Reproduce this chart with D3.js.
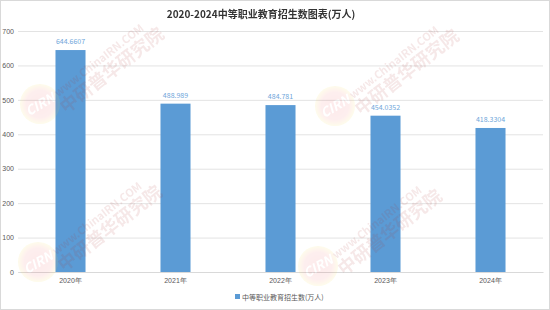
<!DOCTYPE html>
<html>
<head>
<meta charset="utf-8">
<script src="https://cdn.jsdelivr.net/npm/d3@7"></script>
<style>
  body { margin: 0; background: #fff; }
  svg { display: block; font-family: "Noto Sans CJK SC", "Noto Sans", sans-serif; }
</style>
</head>
<body>
<div id="chart"></div>
<script>
// chart data
const years = ['2020年', '2021年', '2022年', '2023年', '2024年'];
const enrolment = [644.6607, 488.989, 484.781, 454.0352, 418.3304];
const enrolmentLabels = ['644.6607', '488.989', '484.781', '454.0352', '418.3304'];
const yTicks = [0, 100, 200, 300, 400, 500, 600, 700];
const title = '2020-2024中等职业教育招生数图表(万人)';
const seriesName = '中等职业教育招生数(万人)';

const W = 550, H = 310;
const margin = {top: 31, right: 7, bottom: 38, left: 18};
const barColor = '#5b9bd5';

const svg = d3.select('#chart').append('svg')
  .attr('width', W).attr('height', H);

svg.append('rect')
  .attr('x', 0.5).attr('y', 0.5)
  .attr('width', W - 1).attr('height', H - 1)
  .attr('fill', '#fff').attr('stroke', '#d9d9d9');

const xScale = d3.scaleBand()
  .domain(years)
  .range([margin.left, W - margin.right])
  .paddingInner(0.714)
  .paddingOuter(0.357);

const yScale = d3.scaleLinear()
  .domain([0, 700])
  .range([H - margin.bottom, margin.top]);

// gridlines + y labels
const yAxis = d3.axisLeft(yScale)
  .tickValues(yTicks)
  .tickSize(-(W - margin.right - margin.left))
  .tickPadding(4);
const gy = svg.append('g')
  .attr('transform', `translate(${margin.left},0)`)
  .call(yAxis);
gy.select('.domain').remove();
gy.selectAll('.tick line').attr('stroke', '#e3e3e3').attr('stroke-width', 1);
gy.selectAll('.tick text')
  .attr('fill', '#595959').attr('font-size', 7);

// bars
svg.append('g').selectAll('rect')
  .data(enrolment)
  .join('rect')
  .attr('x', (d, i) => xScale(years[i]))
  .attr('y', d => yScale(d))
  .attr('width', xScale.bandwidth())
  .attr('height', d => yScale(0) - yScale(d))
  .attr('fill', barColor);

// value labels
svg.append('g').selectAll('text')
  .data(enrolment)
  .join('text')
  .attr('x', (d, i) => xScale(years[i]) + xScale.bandwidth() / 2)
  .attr('y', d => yScale(d) - 6)
  .attr('text-anchor', 'middle')
  .attr('font-size', 7)
  .attr('fill', '#6fa6da')
  .text((d, i) => enrolmentLabels[i]);

// x axis
const gx = svg.append('g')
  .attr('transform', `translate(0,${yScale(0)})`)
  .call(d3.axisBottom(xScale).tickSize(0).tickPadding(6));
gx.select('.domain').attr('stroke', '#d9d9d9');
gx.selectAll('.tick text').attr('fill', '#595959').attr('font-size', 7);

// watermarks (faint, on top like the original)
const marks = [[40, 104], [335, 106], [38, 262], [318, 266]];
const defs = svg.append('defs');
const grad = defs.append('radialGradient').attr('id', 'wm');
grad.append('stop').attr('offset', '0%').attr('stop-color', '#e8434a');
grad.append('stop').attr('offset', '70%').attr('stop-color', '#ee6a6a');
grad.append('stop').attr('offset', '100%').attr('stop-color', '#f4e04d');
const wm = svg.append('g').attr('opacity', 0.11);
marks.forEach(([cx, cy]) => {
  wm.append('circle').attr('cx', cx).attr('cy', cy).attr('r', 20)
    .attr('fill', 'url(#wm)');
  wm.append('text').attr('x', cx).attr('y', cy + 5)
    .attr('text-anchor', 'middle').attr('font-size', 13).attr('font-weight', 'bold')
    .attr('font-style', 'italic').attr('fill', '#fff')
    .attr('transform', `rotate(-30,${cx},${cy})`).text('CIRN');
  const g = wm.append('g').attr('transform', `translate(${cx + 22},${cy + 8}) rotate(-38)`);
  g.append('text').attr('x', 6).attr('y', -14).attr('font-size', 11).attr('font-weight', 'bold')
    .attr('fill', '#a33').text('www.ChinaIRN.COM');
  g.append('text').attr('x', 2).attr('y', 4).attr('font-size', 18).attr('font-weight', 'bold')
    .attr('fill', '#a33').text('中研普华研究院');
});

// title
svg.append('text')
  .attr('x', 261).attr('y', 18)
  .attr('text-anchor', 'middle')
  .attr('font-size', 10).attr('font-weight', 'bold')
  .attr('fill', '#333')
  .text(title);

// legend
const lg = svg.append('g').attr('transform', 'translate(237,297)');
lg.append('rect').attr('x', -2).attr('y', -3).attr('width', 5).attr('height', 5).attr('fill', barColor);
lg.append('text').attr('x', 5).attr('y', 2.5)
  .attr('font-size', 7).attr('fill', '#595959').text(seriesName);
</script>
</body>
</html>
